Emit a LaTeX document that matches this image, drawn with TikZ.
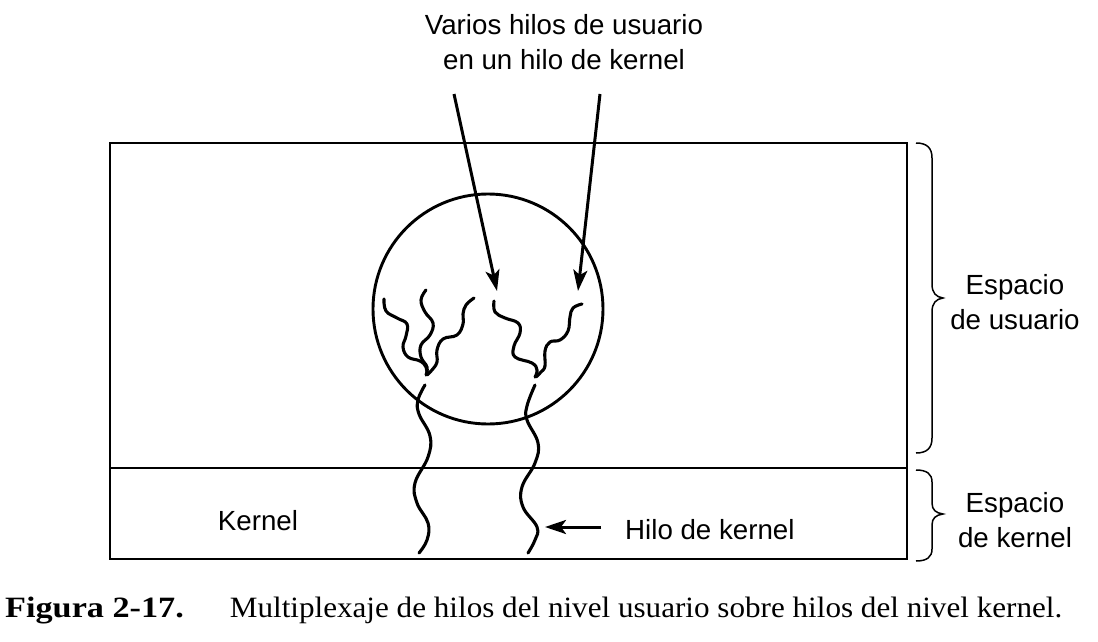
\documentclass[tikz,border=0pt]{standalone}
\usepackage{fontspec}
\setmainfont{Liberation Serif}
\newfontfamily\labelfont{Liberation Sans}
\newfontfamily\capbold[FakeStretch=1.16]{Liberation Serif}
\newfontfamily\capreg[FakeStretch=1.055]{Liberation Serif}
\usetikzlibrary{arrows.meta}
\begin{document}
\begin{tikzpicture}[x=1pt,y=-1pt,
  lbl/.style={font=\labelfont\fontsize{27.7}{35}\selectfont, align=center, inner sep=0pt},
  frame/.style={line width=2.9pt},
  thread/.style={line width=3.1pt, line cap=round},
  pointer/.style={line width=3pt, -{Stealth[length=21pt,width=14pt,inset=5pt]}},
  bracepath/.style={line width=1.5pt}]
\useasboundingbox (0,0) rectangle (1098,642);
% box
\draw[frame] (110,143) rectangle (907,559);
\draw[frame] (110,468) -- (907,468);
% circle
\node[draw, circle, line width=2.9pt, minimum size=230pt, inner sep=0pt] (proc) at (488,309) {};
% user threads
\draw[thread] plot[smooth, tension=0.7] coordinates {(384,299) (386,311) (397,318) (407,324) (406,336) (403,347) (408,357) (420,361) (426,367) (427,374)};
\draw[thread] plot[smooth, tension=0.7] coordinates {(426,290) (421,300) (425,312) (433,323) (430,335) (421,345) (421,357) (427,367) (426,375)};
\draw[thread] plot[smooth, tension=0.7] coordinates {(474,298) (466,305) (463,314) (463,324) (457,335) (443,339) (437,350) (437,362) (432,370) (427,375)};
\draw[thread] plot[smooth, tension=0.7] coordinates {(494,301) (495,312) (505,318) (518,323) (520,333) (514,346) (515,357) (532,363) (537,370) (535,377)};
\draw[thread] plot[smooth, tension=0.7] coordinates {(582,304) (573,308) (570,317) (568,331) (560,340) (550,342) (545,351) (545,366) (541,372) (536,377)};
% kernel threads
\draw[thread] plot[smooth, tension=0.7] coordinates {(425,385) (418,400) (419,414) (430,436) (428,457) (415,483) (417,503) (428,523) (427,540) (419,553)};
\draw[thread] plot[smooth, tension=0.7] coordinates {(535,385) (527,406) (527,420) (538,443) (535,463) (522,487) (523,507) (537,527) (535,540) (528,553)};
% labels
\node[lbl] (top) at (564,42) {Varios hilos de usuario\\en un hilo de kernel};
\coordinate (a1s) at (454,94);
\coordinate (a1e) at (497,291);
\coordinate (a2s) at (600,94);
\coordinate (a2e) at (578,291);
\draw[pointer] (a1s) -- (a1e);
\draw[pointer] (a2s) -- (a2e);
\node[lbl] (kern) at (258,521) {Kernel};
\node[lbl, anchor=west] (hk) at (625,530) {Hilo de kernel};
\coordinate (hkt) at (545,527);
\coordinate (hks) at (601,527);
\draw[pointer] (hks) -- (hkt);
\node[lbl] (us) at (1015,302) {Espacio\\de usuario};
\node[lbl] (ks) at (1015,520) {Espacio\\de kernel};
% braces
\draw[bracepath] (916,143) .. controls (927,143) and (932,148) .. (932,158) -- (932,284) .. controls (932,293) and (936,297) .. (943,298) .. controls (936,299) and (932,303) .. (932,312) -- (932,438) .. controls (932,448) and (927,453) .. (916,453);
\draw[bracepath] (916,470) .. controls (927,470) and (932,474) .. (932,482) -- (932,503) .. controls (932,510) and (936,513) .. (943,514) .. controls (936,515) and (932,518) .. (932,525) -- (932,549) .. controls (932,557) and (927,561) .. (916,561);
% caption
\node[anchor=base west, inner sep=0pt, font=\fontsize{29.5}{35}\selectfont] (cap) at (5,617) {{\capbold\bfseries Figura 2-17.}\hspace{46pt}{\capreg Multiplexaje de hilos del nivel usuario sobre hilos del nivel kernel.}};
\end{tikzpicture}
\end{document}
